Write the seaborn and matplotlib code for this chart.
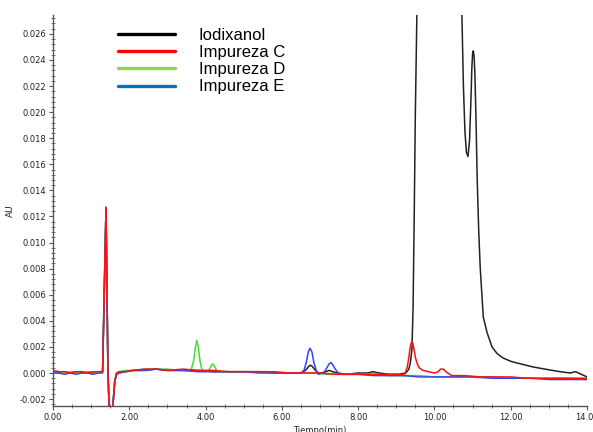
import matplotlib
matplotlib.use("Agg")
import matplotlib.pyplot as plt
from matplotlib.lines import Line2D
from matplotlib.ticker import MultipleLocator, FormatStrFormatter
import numpy as np
import pandas as pd
import seaborn as sns

# Series names (legend order)
series = ["Iodixanol", "Impureza C", "Impureza D", "Impureza E"]

# Iodixanol trace: time (min) and absorbance (AU)
t_iodixanol = [0.00, 0.15, 0.30, 0.45, 0.60, 0.75, 0.90, 1.05, 1.20, 1.30, 1.39, 1.44, 1.47,
               1.52, 1.57, 1.62, 1.67, 1.75, 1.90, 2.10, 2.40, 2.70, 3.00, 3.40, 3.80, 4.20,
               4.60, 5.00, 5.40, 5.80, 6.20, 6.50, 6.62, 6.70, 6.75, 6.80, 6.88, 6.96, 7.05,
               7.15, 7.24, 7.33, 7.45, 7.70, 8.00, 8.25, 8.39, 8.55, 8.80, 9.05, 9.25, 9.33,
               9.37, 9.41, 9.44, 9.47, 9.50, 9.54, 9.60, 9.80, 10.10, 10.40, 10.62, 10.72,
               10.76, 10.80, 10.84, 10.88, 10.92, 10.96, 10.98, 11.00, 11.02, 11.04, 11.06,
               11.09, 11.12, 11.16, 11.20, 11.28, 11.38, 11.51, 11.64, 11.80, 12.00, 12.16,
               12.40, 12.59, 12.80, 13.03, 13.30, 13.56, 13.70, 13.85, 14.00]
au_iodixanol = [0.0001, 0.0000, 0.0001, 0.0000, 0.0001, 0.0000, 0.0001, 0.0000, 0.0001, 0.0001,
                0.0127, 0.0002, -0.0025, -0.0060, -0.0025, -0.0006, 0.0000, 0.0001, 0.0001,
                0.0002, 0.0002, 0.0003, 0.0002, 0.0002, 0.0002, 0.0001, 0.0001, 0.0001, 0.0001,
                0.0000, 0.0000, 0.0000, 0.0002, 0.0005, 0.0006, 0.0005, 0.0002, 0.0000, 0.0000,
                0.0001, 0.0002, 0.0001, 0.0000, -0.0001, 0.0000, 0.0000, 0.0001, 0.0000,
                -0.0001, -0.0001, 0.0000, 0.0003, 0.0008, 0.0018, 0.0050, 0.0120, 0.0200,
                0.0275, 0.0500, 0.3000, 1.0000, 0.4000, 0.0500, 0.0275, 0.0220, 0.0185,
                0.0169, 0.0166, 0.0178, 0.0212, 0.0233, 0.0245, 0.0247, 0.0243, 0.0230,
                0.0195, 0.0150, 0.0110, 0.0081, 0.0043, 0.0031, 0.0020, 0.0015, 0.00115,
                0.0009, 0.00077, 0.0006, 0.00046, 0.00035, 0.00023, 0.0001, 0.0000, 0.0001,
                -0.0001, -0.0003]

# Impureza C trace
t_imp_c = [0.00, 0.15, 0.30, 0.45, 0.60, 0.75, 0.90, 1.05, 1.20, 1.30, 1.39, 1.44, 1.47, 1.52,
           1.57, 1.62, 1.67, 1.75, 1.90, 2.10, 2.40, 2.70, 3.00, 3.40, 3.80, 4.20, 4.60, 5.00,
           5.40, 5.80, 6.20, 6.60, 7.00, 7.40, 7.80, 8.20, 8.60, 9.00, 9.20, 9.25, 9.29, 9.33,
           9.36, 9.39, 9.41, 9.43, 9.46, 9.50, 9.55, 9.60, 9.70, 9.85, 10.00, 10.10, 10.16,
           10.20, 10.24, 10.30, 10.45, 10.80, 11.20, 11.60, 12.00, 12.40, 12.80, 13.20, 13.60,
           14.00]
au_imp_c = [0.0002, 0.0001, 0.0001, 0.0000, 0.0001, 0.0001, 0.0000, 0.0001, 0.0001, 0.0001,
            0.0127, 0.0002, -0.0025, -0.0060, -0.0025, -0.0006, 0.0000, 0.0001, 0.0001,
            0.0002, 0.0003, 0.0003, 0.0002, 0.0003, 0.0002, 0.0002, 0.0001, 0.0001, 0.0001,
            0.0001, 0.0000, 0.0000, 0.0000, -0.0001, -0.0001, -0.0001, -0.0001, -0.0001,
            -0.0001, 0.0001, 0.0005, 0.0012, 0.0019, 0.0023, 0.0024, 0.0023, 0.0019, 0.0012,
            0.0007, 0.0004, 0.0002, 0.0001, 0.0000, 0.0001, 0.0003, 0.0003, 0.0003, 0.0001,
            -0.0002, -0.0002, -0.0003, -0.0003, -0.0003, -0.0004, -0.0004, -0.0004, -0.0004,
            -0.0004]

# Impureza D trace
t_imp_d = [0.00, 0.15, 0.30, 0.45, 0.60, 0.75, 0.90, 1.05, 1.20, 1.30, 1.39, 1.44, 1.47, 1.52,
           1.57, 1.62, 1.67, 1.75, 1.90, 2.10, 2.40, 2.70, 3.00, 3.30, 3.55, 3.63, 3.69, 3.73,
           3.77, 3.81, 3.85, 3.90, 3.98, 4.08, 4.14, 4.18, 4.22, 4.29, 4.40, 4.80, 5.20, 5.60,
           6.00, 6.40, 6.80, 7.20, 7.60, 8.00, 8.40, 8.80, 9.20, 9.60, 10.00, 10.50, 11.00,
           11.50, 12.00, 12.50, 13.00, 13.50, 14.00]
au_imp_d = [0.0001, 0.0001, 0.0000, 0.0001, 0.0000, 0.0001, 0.0001, 0.0000, 0.0001, 0.0001,
            0.0127, 0.0002, -0.0025, -0.0060, -0.0025, -0.0006, 0.0000, 0.0001, 0.0002,
            0.0002, 0.0003, 0.0003, 0.0003, 0.0002, 0.0002, 0.0003, 0.0010, 0.0019, 0.0025,
            0.0020, 0.0010, 0.0003, 0.0001, 0.0002, 0.0005, 0.0007, 0.0006, 0.0002, 0.0001,
            0.0001, 0.0001, 0.0001, 0.0000, 0.0000, 0.0000, -0.0001, -0.0001, -0.0001,
            -0.0001, -0.0002, -0.0002, -0.0002, -0.0003, -0.0003, -0.0003, -0.0003, -0.0004,
            -0.0004, -0.0004, -0.0004, -0.0005]

# Impureza E trace
t_imp_e = [0.00, 0.15, 0.30, 0.45, 0.60, 0.75, 0.90, 1.05, 1.20, 1.30, 1.39, 1.44, 1.47, 1.52,
           1.57, 1.62, 1.67, 1.75, 1.90, 2.10, 2.40, 2.70, 3.00, 3.40, 3.80, 4.20, 4.60, 5.00,
           5.40, 5.80, 6.20, 6.50, 6.58, 6.64, 6.69, 6.74, 6.79, 6.84, 6.90, 6.96, 7.05, 7.12,
           7.18, 7.24, 7.29, 7.34, 7.40, 7.48, 7.60, 8.00, 8.40, 8.80, 9.20, 9.60, 10.00,
           10.50, 11.00, 11.50, 12.00, 12.50, 13.00, 13.50, 14.00]
au_imp_e = [0.0000, 0.0000, -0.0001, 0.0000, -0.0001, 0.0000, 0.0000, -0.0001, 0.0000, 0.0000,
            0.0127, 0.0002, -0.0025, -0.0060, -0.0025, -0.0006, -0.0001, 0.0000, 0.0001,
            0.0002, 0.0002, 0.0003, 0.0002, 0.0002, 0.0001, 0.0001, 0.0001, 0.0001, 0.0000,
            0.0000, 0.0000, 0.0000, 0.0002, 0.0008, 0.0016, 0.0019, 0.0016, 0.0008, 0.0002,
            -0.0001, 0.0000, 0.0001, 0.0004, 0.0007, 0.0008, 0.0006, 0.0003, 0.0000, -0.0001,
            -0.0001, -0.0002, -0.0002, -0.0002, -0.0003, -0.0003, -0.0003, -0.0003, -0.0004,
            -0.0004, -0.0004, -0.0005, -0.0005, -0.0005]

trace_times = [t_iodixanol, t_imp_c, t_imp_d, t_imp_e]
trace_values = [au_iodixanol, au_imp_c, au_imp_d, au_imp_e]

df = pd.concat(
    [pd.DataFrame({"Tiempo": t, "AU": v, "Muestra": name})
     for name, t, v in zip(series, trace_times, trace_values)],
    ignore_index=True,
)

line_colors = {"Iodixanol": "#222222", "Impureza C": "#ff1010",
               "Impureza D": "#44dd33", "Impureza E": "#3344ff"}
legend_colors = ["#000000", "#ff0000", "#92d050", "#0070c0"]

sns.set_theme(style="white")
plt.rcParams["font.family"] = ["Liberation Sans Narrow", "DejaVu Sans"]

fig = plt.figure(figsize=(5.93, 4.32), dpi=100)
ax = fig.add_axes([53 / 593, 1 - 406 / 432, (587 - 53) / 593, (406 - 15) / 432])

# draw order: black first, red on top
for name in ["Iodixanol", "Impureza D", "Impureza E", "Impureza C"]:
    sns.lineplot(data=df[df["Muestra"] == name], x="Tiempo", y="AU",
                 color=line_colors[name], linewidth=1.1, estimator=None,
                 sort=False, ax=ax, legend=False)

ax.set_xlim(0, 14)
ax.set_ylim(-0.00253, 0.02745)
ax.xaxis.set_major_locator(MultipleLocator(2))
ax.xaxis.set_minor_locator(MultipleLocator(0.5))
ax.xaxis.set_major_formatter(FormatStrFormatter("%.2f"))
ax.yaxis.set_major_locator(MultipleLocator(0.002))
ax.yaxis.set_minor_locator(MultipleLocator(0.0004))
ax.yaxis.set_major_formatter(FormatStrFormatter("%.3f"))

for side in ["top", "right"]:
    ax.spines[side].set_visible(False)
for side in ["left", "bottom"]:
    ax.spines[side].set_color("#555555")
    ax.spines[side].set_linewidth(1.0)

ax.tick_params(axis="both", which="major", direction="out", length=3, width=0.8,
               color="#555555", labelsize=6, pad=2, labelcolor="#222222")
ax.tick_params(axis="both", which="minor", direction="inout", length=3, width=0.6,
               color="#555555")
ax.tick_params(axis="x", which="both", bottom=True)
ax.tick_params(axis="y", which="both", left=True)

ax.set_xlabel("Tiempo(min)", fontsize=6, labelpad=3, color="#222222")
ax.set_ylabel("AU", fontsize=6.5, labelpad=3, color="#222222")

handles = [Line2D([0], [0], color=c, linewidth=2.4) for c in legend_colors]
fig.legend(handles, series, loc="upper left", bbox_to_anchor=(118 / 593, 1 - 28 / 432),
           bbox_transform=fig.transFigure, frameon=False, borderpad=0, borderaxespad=0,
           handlelength=3.4, handletextpad=1.45, labelspacing=0.13, labelcolor="black",
           prop={"family": "Liberation Sans", "size": 12})

fig.savefig("out.png", dpi=100, facecolor="white")
